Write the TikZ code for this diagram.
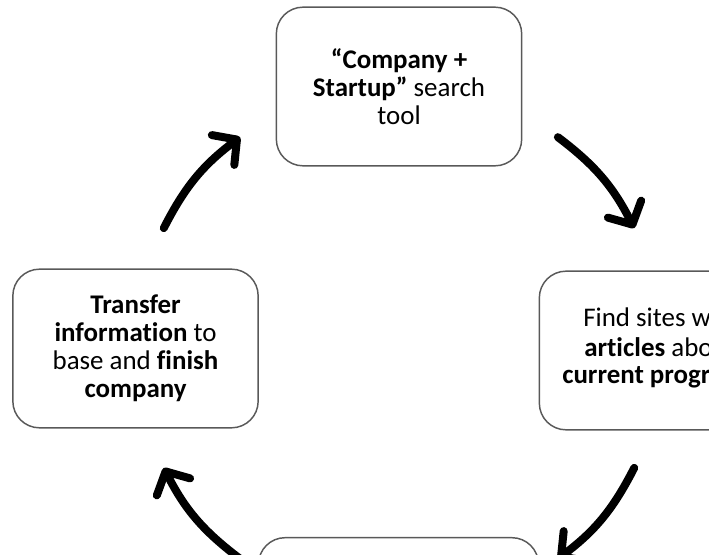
\documentclass[tikz,border=0pt]{standalone}
\usepackage{fontspec}
\setmainfont{Carlito}[Ligatures=NoCommon]
\usetikzlibrary{arrows.meta,calc}

\tikzset{
  stepbox/.style={draw=black!65, line width=1.1pt, rounded corners=20pt,
    minimum width=184pt, minimum height=119pt, align=center,
    font=\fontsize{20.2}{21}\selectfont},
  steptext/.style={anchor=base west, inner sep=0pt,
    font=\fontsize{20.2}{21}\selectfont},
  turn/.style={line width=6pt, line cap=round,
    -{Straight Barb[round, length=13pt, width=28pt]}}
}

\begin{document}
\begin{tikzpicture}[x=0.75pt, y=0.75pt]
  \useasboundingbox (0, 0) rectangle (709, 554);
  \clip (0, 0) rectangle (709, 554);

  \coordinate (hub) at (399, 206);

  % the four steps
  \node[stepbox] (search) at (399, 467.5)
    {\textbf{“Company +}\\\textbf{Startup”} search\\tool};
  \node[stepbox] (sites) at (662, 203.5) {};
  \node[stepbox] (transfer) at (135.5, 205.5)
    {\textbf{Transfer}\\\textbf{information} to\\base and \textbf{finish}\\\textbf{company}};
  \node[stepbox, minimum width=210pt] (bottom) at (398.5, -63) {};

  \node[steptext] (find) at (583, 228) {Find sites w};
  \node[steptext] (articles) at (584, 198) {\textbf{articles} abo};
  \node[steptext] (progress) at (562, 171) {\textbf{current progr}};

  % arrows round the cycle
  \foreach \a [count=\i] in {140, 40, -40, -140} {
    \coordinate (tail\i) at ($(hub) + (\a+13:264)$);
    \coordinate (tip\i) at ($(hub) + (\a-13:264)$);
    \draw[turn] (tail\i) to[bend left=13] (tip\i);
  }
\end{tikzpicture}
\end{document}
